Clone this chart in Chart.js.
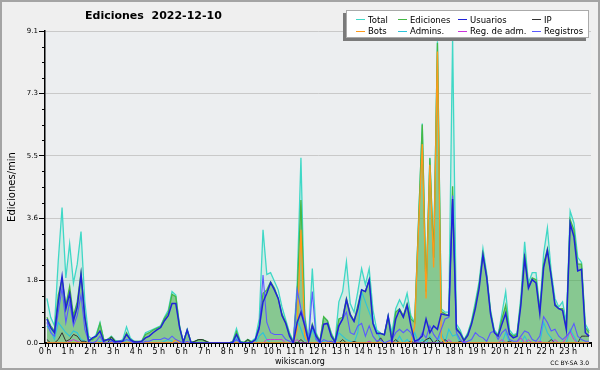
<!DOCTYPE html>
<html>
<head>
<meta charset="utf-8">
<title>Ediciones 2022-12-10</title>
<script src="https://cdn.jsdelivr.net/npm/chart.js@4.4.1/dist/chart.umd.min.js"></script>
<style>
  html, body { margin: 0; padding: 0; background: #efefef; }
  #wrap { position: relative; width: 600px; height: 370px; overflow: hidden; font-family: "DejaVu Sans", sans-serif; color: #000; }
  #chart { position: absolute; left: 0; top: 0; }
  #frame { position: absolute; inset: 0; border: 2px solid #a4a4a4; pointer-events: none; }
  #title { position: absolute; left: 85px; top: 9px; font-weight: bold; font-size: 11px; white-space: pre; }
  #legend { position: absolute; left: 346px; top: 10px; width: 232px; height: 23px; background: #fff; border: 1px solid #aaa;
            box-shadow: -3px 3px 0 #7a7a7a; display: grid; grid-template-columns: 42px 60px 74px auto;
            padding: 3px 0 0 9px; box-sizing: content-box; font-size: 8.5px; line-height: 10px; }
  #legend .it { display: flex; align-items: center; white-space: nowrap; }
  #legend .it i { display: inline-block; width: 9px; height: 1px; margin-right: 3px; }
  #site { position: absolute; left: 0; width: 600px; top: 357px; text-align: center; font-size: 8px; }
  #lic { position: absolute; right: 11px; top: 359px; font-size: 6px; }
</style>
</head>
<body>
<div id="wrap">
  <canvas id="chart" width="600" height="370"></canvas>
  <div id="title">Ediciones  2022-12-10</div>
  <div id="legend"></div>
  <div id="site">wikiscan.org</div>
  <div id="lic">CC BY-SA 3.0</div>
  <div id="frame"></div>
</div>
<script>
"use strict";

// 10-minute slots, plotted at the middle of each slot (minutes since 00:00)
const slots = Array.from({ length: 144 }, (_, i) => i * 10 + 5);

// edits per minute, one row = 2 hours
const total = [
  1.3, 0.75, 0.5, 2.4, 3.95, 1.9, 2.9, 1.75, 2.3, 3.25, 1.2, 0.2,
  0.1, 0.25, 0.6, 0.1, 0.1, 0.2, 0.08, 0.05, 0.1, 0.47, 0.15, 0.05,
  0.05, 0.05, 0.3, 0.35, 0.4, 0.45, 0.5, 0.75, 0.95, 1.5, 1.4, 0.5,
  0.02, 0.4, 0.02, 0.05, 0.1, 0.1, 0.05, 0, 0, 0, 0, 0,
  0, 0.05, 0.42, 0.05, 0.02, 0.1, 0.05, 0.15, 0.7, 3.3, 2.0, 2.05,
  1.8, 1.55, 1.05, 0.67, 0.3, 0.05, 1.7, 5.4, 0.8, 0.1, 2.17, 0.3,
  0.05, 0.75, 0.65, 0.3, 0.05, 1.2, 1.5, 2.37, 1.15, 0.9, 1.5, 2.17,
  1.7, 2.17, 0.96, 0.38, 0.29, 0.24, 0.8, 0.3, 1.0, 1.26, 1.05, 1.45,
  0.8, 0.6, 3.5, 6.4, 1.5, 5.4, 2.5, 8.8, 1.0, 0.9, 0.9, 8.9,
  0.55, 0.38, 0.09, 0.3, 0.65, 1.2, 1.8, 2.76, 2.03, 0.97, 0.38, 0.24,
  0.86, 1.5, 0.38, 0.24, 0.28, 1.35, 2.95, 1.75, 2.05, 2.05, 1.0, 2.6,
  3.36, 2.1, 1.3, 1.05, 1.2, 0.62, 3.85, 3.5, 2.5, 2.35, 0.55, 0.35,
];
const ediciones = [
  0.75, 0.5, 0.35, 1.4, 1.85, 1.1, 1.65, 0.8, 1.2, 2.05, 0.8, 0.1,
  0.1, 0.2, 0.57, 0.1, 0.1, 0.18, 0.05, 0.05, 0.05, 0.3, 0.1, 0.05,
  0.05, 0.05, 0.25, 0.3, 0.38, 0.43, 0.48, 0.72, 0.88, 1.42, 1.35, 0.48,
  0.02, 0.38, 0.02, 0.05, 0.1, 0.1, 0.05, 0, 0, 0, 0, 0,
  0, 0.03, 0.33, 0.03, 0.02, 0.1, 0.03, 0.1, 0.5, 1.45, 1.55, 1.78,
  1.6, 1.3, 0.85, 0.6, 0.25, 0.03, 1.4, 4.17, 0.7, 0.05, 0.55, 0.25,
  0.05, 0.77, 0.65, 0.25, 0.05, 0.7, 0.75, 1.3, 0.85, 0.65, 1.1, 1.55,
  1.5, 1.85, 0.6, 0.3, 0.28, 0.24, 0.78, 0.1, 0.9, 1.0, 0.8, 1.15,
  0.7, 0.6, 3.5, 6.37, 1.5, 5.39, 2.48, 8.75, 0.92, 0.85, 0.8, 4.57,
  0.45, 0.3, 0.08, 0.25, 0.6, 1.1, 1.7, 2.6, 1.95, 0.9, 0.33, 0.22,
  0.7, 1.1, 0.3, 0.2, 0.25, 1.2, 2.6, 1.65, 1.9, 1.85, 0.95, 2.3,
  2.75, 1.95, 1.15, 1.0, 1.0, 0.45, 3.6, 3.3, 2.3, 2.3, 0.45, 0.3,
];
const usuarios = [
  0.7, 0.45, 0.3, 1.2, 1.95, 1.0, 1.45, 0.65, 1.05, 2.0, 0.75, 0.05,
  0.15, 0.2, 0.35, 0.05, 0.1, 0.1, 0.03, 0.05, 0.05, 0.25, 0.1, 0.03,
  0.03, 0.05, 0.15, 0.2, 0.3, 0.38, 0.45, 0.65, 0.8, 1.15, 1.15, 0.45,
  0.02, 0.38, 0.02, 0, 0, 0, 0, 0, 0, 0, 0, 0,
  0, 0.02, 0.25, 0.02, 0, 0, 0.02, 0.1, 0.45, 1.2, 1.45, 1.76,
  1.55, 1.3, 0.8, 0.57, 0.2, 0, 0.6, 0.9, 0.5, 0.05, 0.5, 0.2,
  0.03, 0.55, 0.57, 0.2, 0.03, 0.5, 0.7, 1.26, 0.82, 0.63, 1.0, 1.55,
  1.5, 1.84, 0.57, 0.28, 0.28, 0.24, 0.78, 0.05, 0.7, 0.97, 0.75, 1.1,
  0.5, 0.05, 0.1, 0.2, 0.7, 0.3, 0.5, 0.4, 0.85, 0.82, 0.8, 4.2,
  0.4, 0.28, 0.07, 0.22, 0.55, 1.0, 1.6, 2.56, 1.9, 0.85, 0.3, 0.2,
  0.55, 0.87, 0.25, 0.15, 0.2, 1.1, 2.47, 1.6, 1.85, 1.75, 0.86, 2.2,
  2.7, 1.94, 1.1, 1.0, 0.95, 0.38, 3.49, 3.1, 2.1, 2.15, 0.3, 0.2,
];
const ip = [
  0.1, 0, 0, 0.1, 0.3, 0.05, 0.1, 0.25, 0.2, 0.05, 0.05, 0,
  0, 0, 0, 0, 0, 0.18, 0.05, 0, 0, 0, 0, 0.05,
  0, 0, 0, 0, 0, 0, 0, 0, 0, 0, 0, 0,
  0, 0, 0, 0.05, 0.1, 0.1, 0.05, 0, 0, 0, 0, 0,
  0, 0, 0, 0, 0, 0.1, 0, 0, 0, 0, 0, 0,
  0, 0, 0, 0, 0, 0, 0, 0.1, 0, 0, 0, 0,
  0, 0, 0, 0.05, 0, 0, 0.1, 0, 0, 0.05, 0, 0,
  0, 0, 0, 0, 0.15, 0, 0, 0, 0.1, 0, 0, 0,
  0.05, 0, 0, 0, 0.1, 0.15, 0, 0.1, 0, 0.1, 0, 0,
  0, 0.05, 0, 0, 0, 0, 0, 0, 0, 0, 0, 0,
  0, 0, 0.05, 0, 0, 0, 0, 0, 0, 0, 0, 0,
  0, 0.1, 0, 0, 0, 0, 0, 0, 0, 0.2, 0.2, 0.2,
];
const bots = [
  0, 0, 0, 0, 0, 0, 0, 0, 0, 0, 0, 0,
  0, 0, 0, 0, 0, 0, 0, 0, 0, 0, 0, 0,
  0, 0, 0, 0, 0, 0, 0, 0, 0, 0, 0.1, 0,
  0, 0, 0, 0, 0, 0, 0, 0, 0, 0, 0, 0,
  0, 0, 0, 0, 0, 0, 0, 0, 0, 0, 0, 0,
  0, 0, 0, 0, 0, 0, 0.4, 3.3, 0.2, 0, 0, 0,
  0, 0, 0, 0, 0, 0, 0, 0, 0, 0, 0, 0,
  0, 0, 0, 0, 0, 0, 0, 0, 0, 0, 0, 0,
  0, 0.5, 3.3, 5.8, 1.3, 5.2, 2.2, 8.5, 0.15, 0, 0, 0,
  0, 0, 0, 0, 0, 0, 0, 0, 0, 0, 0, 0,
  0, 0, 0, 0, 0, 0, 0, 0, 0, 0, 0, 0,
  0, 0, 0, 0, 0, 0, 0, 0, 0, 0, 0, 0,
];
const admins = [
  0.5, 0.35, 0.1, 0.6, 0.45, 0.3, 0.2, 0.35, 0.3, 0.1, 0.05, 0,
  0, 0, 0.05, 0, 0, 0, 0, 0, 0, 0.1, 0.1, 0,
  0, 0, 0, 0, 0, 0, 0, 0.05, 0.1, 0.05, 0, 0,
  0, 0, 0, 0, 0, 0, 0, 0, 0, 0, 0, 0,
  0, 0, 0.15, 0, 0, 0, 0, 0, 0.2, 0.3, 0.1, 0,
  0, 0, 0, 0, 0, 0, 0.7, 0.4, 0.1, 0, 0.4, 0.1,
  0, 0.05, 0, 0, 0, 0.3, 0.2, 0.1, 0.05, 0, 0.3, 1.5,
  1.2, 0.9, 0.6, 0.35, 0.1, 0, 0, 0, 0, 0.2, 0, 0.1,
  0, 0.3, 0, 0.1, 0, 0.2, 0, 0, 0.3, 0, 0.4, 0.2,
  0.25, 0, 0.05, 0, 0, 0, 0, 0, 0, 0, 0, 0,
  0, 0.3, 0, 0, 0, 0, 0.2, 0, 0, 0, 0, 0.6,
  0.3, 0.15, 0, 0, 0, 0, 0.4, 0.2, 0, 0, 0, 0,
];
const regAdm = [
  0, 0, 0, 0, 0, 0, 0.05, 0.1, 0.05, 0, 0, 0,
  0, 0, 0, 0, 0, 0, 0, 0, 0, 0, 0, 0,
  0, 0, 0, 0, 0, 0, 0, 0, 0, 0, 0, 0,
  0, 0, 0, 0, 0, 0, 0, 0, 0, 0, 0, 0,
  0, 0, 0, 0, 0, 0, 0, 0, 0, 0, 0.1, 0.1,
  0.1, 0.1, 0.1, 0, 0, 0, 0.1, 0, 0, 0, 0, 0,
  0, 0, 0, 0, 0, 0, 0, 0, 0, 0, 0, 0,
  0, 0.05, 0, 0, 0, 0, 0, 0.05, 0, 0, 0, 0,
  0, 0, 0, 0, 0, 0, 0, 0, 0, 0, 0.1, 0,
  0, 0, 0.05, 0, 0, 0, 0, 0, 0, 0, 0, 0,
  0.1, 0, 0, 0, 0, 0.15, 0, 0.1, 0, 0, 0.05, 0,
  0, 0, 0.1, 0, 0, 0.15, 0.33, 0.1, 0, 0, 0, 0,
];
const registros = [
  0.6, 0.3, 0.2, 0.9, 1.6, 0.6, 1.2, 0.5, 0.8, 1.4, 0.4, 0.05,
  0, 0.05, 0.2, 0, 0, 0.05, 0, 0, 0.05, 0.1, 0.05, 0,
  0, 0, 0.05, 0.05, 0.1, 0.1, 0.1, 0.15, 0.1, 0.2, 0.1, 0.05,
  0, 0.05, 0, 0, 0, 0, 0, 0, 0, 0, 0, 0,
  0, 0, 0.1, 0, 0, 0, 0, 0.1, 0.4, 1.98, 0.6, 0.3,
  0.25, 0.25, 0.25, 0.1, 0.05, 0, 1.55, 1.0, 0.6, 0.05, 1.5, 0.1,
  0, 0.1, 0.05, 0.05, 0, 0.5, 0.7, 0.9, 0.3, 0.25, 0.5, 0.57,
  0.2, 0.5, 0.2, 0.05, 0.1, 0, 0.05, 0.1, 0.3, 0.4, 0.3, 0.4,
  0.3, 0.05, 0.05, 0.3, 0.15, 0.5, 0.25, 0.1, 0.4, 0.7, 0.75, 4.3,
  0.3, 0.1, 0, 0.05, 0.1, 0.3, 0.2, 0.15, 0.05, 0.3, 0.35, 0.1,
  0.3, 0.4, 0.1, 0.05, 0.05, 0.2, 0.35, 0.3, 0.1, 0.05, 0.2, 0.77,
  0.6, 0.35, 0.4, 0.2, 0.1, 0.2, 0.33, 0.57, 0.2, 0.1, 0.05, 0.05,
];

const Y_MAX = 9.1;
const Y_STEP = Y_MAX / 20;   // minor ticks, every 4th is labelled

// legend order (two rows of four), as on wikiscan
const series = [
  { label: "Total",        data: total,     color: "#3fd8c6", fill: "rgba(80,220,180,0.16)", order: 9, width: 1.3 },
  { label: "Ediciones",    data: ediciones, color: "#45b845", fill: "rgba(60,165,60,0.5)",   order: 8, width: 1.3 },
  { label: "Usuarios",     data: usuarios,  color: "#1f22d8", order: 1, width: 1.5 },
  { label: "IP",           data: ip,        color: "#333333", order: 5, width: 1 },
  { label: "Bots",         data: bots,      color: "#ff9a1a", order: 3, width: 1.3 },
  { label: "Admins.",      data: admins,    color: "#2cc4dc", order: 6, width: 1.1 },
  { label: "Reg. de adm.", data: regAdm,    color: "#cc33dd", order: 4, width: 1 },
  { label: "Registros",    data: registros, color: "#5a5aff", order: 2, width: 1.1 },
];

const $ = (sel) => document.querySelector(sel);

$("#legend").innerHTML = series.map((s) =>
  `<span class="it"><i style="background:${s.color}"></i>${s.label}</span>`).join("");

const plotBg = {
  id: "plotBg",
  beforeDraw(chart) {
    const { ctx, chartArea: a } = chart;
    ctx.save();
    ctx.fillStyle = "#eceef0";
    ctx.fillRect(a.left, a.top, a.right - a.left, a.bottom - a.top);
    ctx.restore();
  },
  afterDraw(chart) {
    // short minor ticks on the y axis
    const y = chart.scales.y, ctx = chart.ctx, x0 = chart.chartArea.left;
    ctx.save();
    ctx.strokeStyle = "#000";
    ctx.lineWidth = 1;
    for (let k = 1; k < 20; k++) {
      if (k % 4 === 0) continue;
      const py = Math.round(y.getPixelForValue(k * Y_STEP)) + 0.5;
      ctx.beginPath();
      ctx.moveTo(x0 - 3, py);
      ctx.lineTo(x0, py);
      ctx.stroke();
    }
    ctx.restore();
  },
};

new Chart($("#chart"), {
  type: "line",
  data: {
    labels: slots,
    datasets: series.map((s) => ({
      label: s.label,
      data: s.data,
      borderColor: s.color,
      borderWidth: s.width,
      backgroundColor: s.fill || s.color,
      fill: s.fill ? "origin" : false,
      order: s.order,
      pointRadius: 0,
      tension: 0,
    })),
  },
  options: {
    responsive: false,
    animation: false,
    events: [],
    layout: { padding: { top: 31, right: 9, left: 0, bottom: 0 } },
    plugins: { legend: { display: false }, tooltip: { enabled: false } },
    scales: {
      x: {
        type: "linear", min: 0, max: 1440,
        afterBuildTicks: (s) => { s.ticks = Array.from({ length: 145 }, (_, i) => ({ value: i * 10 })); },
        afterFit: (s) => { s.height = 27; },
        ticks: {
          autoSkip: false, maxRotation: 0, padding: 0, color: "#000",
          font: { family: "DejaVu Sans", size: 8 },
          callback: (v) => (v % 60 === 0 && v < 1440 ? `${v / 60} h` : ""),
        },
        grid: { drawOnChartArea: false, tickLength: 4, color: "#000" },
        border: { color: "#000", width: 2 },
      },
      y: {
        min: 0, max: Y_MAX,
        afterBuildTicks: (s) => { s.ticks = Array.from({ length: 21 }, (_, i) => ({ value: i * Y_STEP })); },
        afterFit: (s) => { s.width = 45; },
        ticks: {
          autoSkip: false, padding: 1, color: "#000",
          font: { family: "DejaVu Sans", size: 7 },
          callback: (v, i) => (i % 4 === 0 ? v.toFixed(1) : ""),
        },
        grid: {
          tickLength: 6,
          color: (c) => (c.index % 4 === 0 ? "#c9c9c9" : "rgba(0,0,0,0)"),
          tickColor: (c) => (c.index % 4 === 0 ? "#000" : "rgba(0,0,0,0)"),
        },
        border: { color: "#000", width: 1.5 },
        title: {
          display: true, text: "Ediciones/min", color: "#000",
          font: { family: "DejaVu Sans", size: 10 }, padding: { top: 6, bottom: 0 },
        },
      },
    },
  },
  plugins: [plotBg],
});
</script>
</body>
</html>
